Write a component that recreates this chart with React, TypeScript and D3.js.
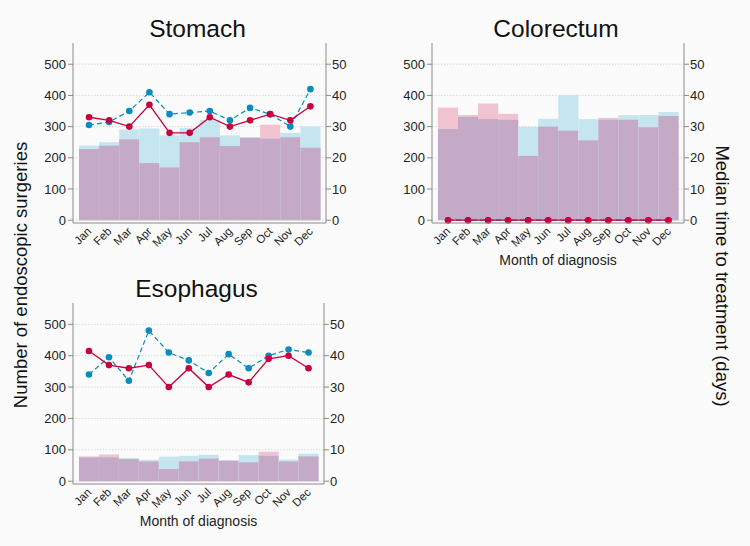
import React from "react";
import * as d3 from "d3";

const months = ["Jan", "Feb", "Mar", "Apr", "May", "Jun", "Jul", "Aug", "Sep", "Oct", "Nov", "Dec"];
const leftTicks = [0, 100, 200, 300, 400, 500];
const rightTicks = [0, 10, 20, 30, 40, 50];

const stomachBarsA = [228, 239, 259, 183, 169, 250, 266, 238, 264, 306, 266, 232];
const stomachBarsB = [239, 250, 291, 294, 272, 296, 321, 272, 266, 261, 280, 300];
const stomachDaysA = [33, 32, 30, 37, 28, 28, 33, 30, 32, 34, 32, 36.5];
const stomachDaysB = [30.5, 31.5, 35, 41, 34, 34.5, 35, 32, 36, 34, 30, 42];

const colorectumBarsA = [361, 337, 374, 341, 206, 300, 287, 256, 328, 322, 298, 334];
const colorectumBarsB = [292, 331, 324, 322, 299, 325, 401, 324, 322, 337, 337, 347];
const colorectumDaysA = [0, 0, 0, 0, 0, 0, 0, 0, 0, 0, 0, 0];
const colorectumDaysB = [0, 0, 0, 0, 0, 0, 0, 0, 0, 0, 0, 0];

const esophagusBarsA = [79, 85, 70, 63, 39, 63, 72, 65, 60, 94, 63, 79];
const esophagusBarsB = [76, 76, 74, 68, 78, 81, 84, 67, 83, 81, 69, 88];
const esophagusDaysA = [41.5, 37, 36, 37, 30, 36, 30, 34, 31.5, 39, 40, 36];
const esophagusDaysB = [34, 39.5, 32, 48, 41, 38.5, 34.5, 40.5, 36, 40, 42, 41];

const FONT = "'Liberation Sans', Arial, Helvetica, sans-serif";
const PINK = "#f1c3d1";
const BLUE = "#c5e5ef";
const PURPLE = "#c4aac7";
const RED = "#c8003c";
const DBLUE = "#0a8cc0";
const AXIS = "#8a8a8a";
const BG = "#fafbfa";

type PanelProps = {
  title: string;
  left: number;
  right: number;
  top: number;
  bottom: number;
  barsA: number[];
  barsB: number[];
  daysA: number[];
  daysB: number[];
  xlabel: boolean;
};

function Panel(p: PanelProps) {
  const y = d3.scaleLinear().domain([-9, 568]).range([p.bottom, p.top]);
  const yd = d3.scaleLinear().domain([-0.9, 56.8]).range([p.bottom, p.top]);
  const x = d3
    .scaleBand<string>()
    .domain(months)
    .range([p.left + 6, p.right - 5.5])
    .padding(0);
  const bw = x.bandwidth();
  const cx = (m: string) => (x(m) as number) + bw / 2;
  const y0 = y(0);
  const lineA = d3
    .line<number>()
    .x((_, i) => cx(months[i]))
    .y((d) => yd(d));
  const midX = (p.left + p.right) / 2;
  return (
    <g>
      <text x={midX - 2} y={p.top - 6} textAnchor="middle" fontSize={24.5} fontFamily={FONT} fill="#111">
        {p.title}
      </text>
      {leftTicks.map((t) => (
        <line
          key={"g" + t}
          x1={p.left}
          x2={p.right}
          y1={y(t)}
          y2={y(t)}
          stroke="#d0d0d0"
          strokeWidth={0.8}
          strokeDasharray="1.5,1.5"
        />
      ))}
      {months.map((m, i) => {
        const a = p.barsA[i];
        const b = p.barsB[i];
        const lo = Math.min(a, b);
        return (
          <g key={"b" + m}>
            <rect x={x(m)} width={bw} y={y(a)} height={y0 - y(a)} fill={PINK} />
            <rect x={x(m)} width={bw} y={y(b)} height={y0 - y(b)} fill={BLUE} />
            <rect x={x(m)} width={bw} y={y(lo)} height={y0 - y(lo)} fill={PURPLE} />
          </g>
        );
      })}
      <path d={lineA(p.daysB) || ""} fill="none" stroke={DBLUE} strokeWidth={1.2} strokeDasharray="5,3" />
      {p.daysB.map((d, i) => (
        <circle key={"cb" + i} cx={cx(months[i])} cy={yd(d)} r={3.3} fill={DBLUE} />
      ))}
      <path d={lineA(p.daysA) || ""} fill="none" stroke={RED} strokeWidth={1.3} />
      {p.daysA.map((d, i) => (
        <circle key={"ca" + i} cx={cx(months[i])} cy={yd(d)} r={3.3} fill={RED} />
      ))}
      <line x1={p.left} x2={p.left} y1={p.top} y2={p.bottom} stroke={AXIS} strokeWidth={1} />
      <line x1={p.right} x2={p.right} y1={p.top} y2={p.bottom} stroke={AXIS} strokeWidth={1} />
      <line x1={p.left} x2={p.right} y1={p.bottom} y2={p.bottom} stroke={AXIS} strokeWidth={1} />
      {leftTicks.map((t) => (
        <g key={"lt" + t}>
          <line x1={p.left - 5} x2={p.left} y1={y(t)} y2={y(t)} stroke={AXIS} />
          <text x={p.left - 7} y={y(t)} dy="0.36em" textAnchor="end" fontSize={13} fontFamily={FONT} fill="#222">
            {t}
          </text>
        </g>
      ))}
      {rightTicks.map((t) => (
        <g key={"rt" + t}>
          <line x1={p.right} x2={p.right + 5} y1={yd(t)} y2={yd(t)} stroke={AXIS} />
          <text x={p.right + 6} y={yd(t)} dy="0.36em" textAnchor="start" fontSize={13} fontFamily={FONT} fill="#222">
            {t}
          </text>
        </g>
      ))}
      {months.map((m) => (
        <text
          key={"xl" + m}
          transform={`translate(${cx(m) - 1},${p.bottom + 5}) rotate(-45)`}
          dy="0.5em"
          textAnchor="end"
          fontSize={11.5}
          fontFamily={FONT}
          fill="#222"
        >
          {m}
        </text>
      ))}
      {p.xlabel && (
        <text x={midX} y={p.bottom + 42} textAnchor="middle" fontSize={14} fontFamily={FONT} fill="#222">
          Month of diagnosis
        </text>
      )}
    </g>
  );
}

export default function App() {
  return (
    <svg width={750} height={546} style={{ display: "block", position: "absolute", left: 0, top: 0, background: BG }}>
      <rect x={0} y={0} width={750} height={546} fill={BG} />
      <Panel
        title="Stomach"
        left={73}
        right={326}
        top={43}
        bottom={223}
        barsA={stomachBarsA}
        barsB={stomachBarsB}
        daysA={stomachDaysA}
        daysB={stomachDaysB}
        xlabel={false}
      />
      <Panel
        title="Colorectum"
        left={432}
        right={684}
        top={43}
        bottom={223}
        barsA={colorectumBarsA}
        barsB={colorectumBarsB}
        daysA={colorectumDaysA}
        daysB={colorectumDaysB}
        xlabel={true}
      />
      <Panel
        title="Esophagus"
        left={73}
        right={324}
        top={303}
        bottom={484}
        barsA={esophagusBarsA}
        barsB={esophagusBarsB}
        daysA={esophagusDaysA}
        daysB={esophagusDaysB}
        xlabel={true}
      />
      <text
        transform="translate(27,275) rotate(-90)"
        textAnchor="middle"
        fontSize={18.5}
        fontFamily={FONT}
        fill="#111"
      >
        Number of endoscopic surgeries
      </text>
      <text
        transform="translate(716,276) rotate(90)"
        textAnchor="middle"
        fontSize={18.5}
        fontFamily={FONT}
        fill="#111"
      >
        Median time to treatment (days)
      </text>
    </svg>
  );
}
